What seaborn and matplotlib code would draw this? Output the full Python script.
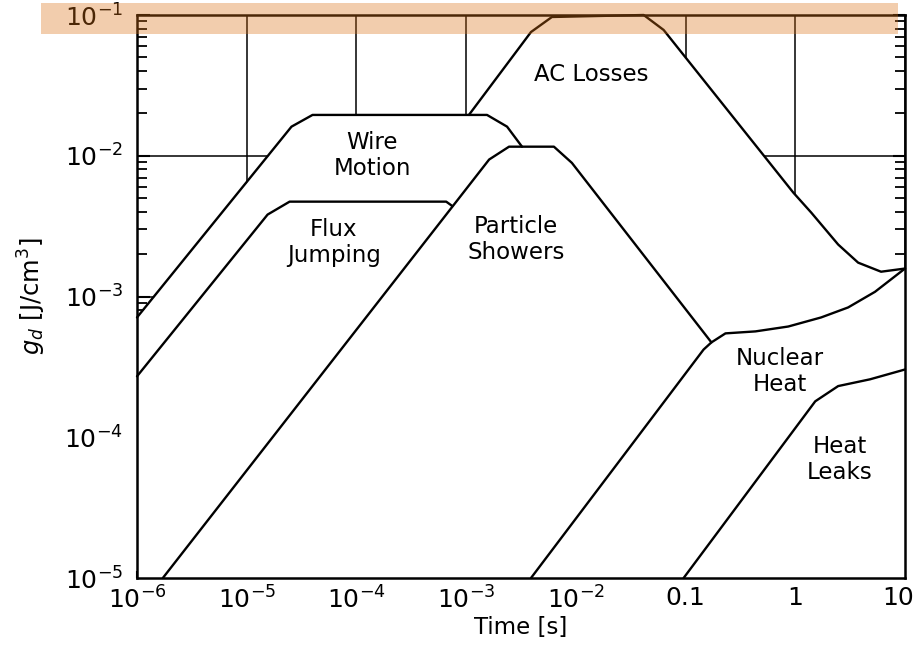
"""Energy deposition spectrum: g_d vs time for the disturbance sources."""
import pandas as pd
import matplotlib.pyplot as plt
import seaborn as sns
from matplotlib.patches import Rectangle
from matplotlib.ticker import LogLocator, NullLocator, NullFormatter
from matplotlib.transforms import ScaledTranslation

# values (time in s, g_d in J/cm^3)
wire_t = [1e-6, 2.56e-5, 3.98e-5, 1.55e-3, 2.36e-3, 3.23e-3]
wire_g = [7.1e-4, 1.61e-2, 1.95e-2, 1.95e-2, 1.61e-2, 1.16e-2]

flux_t = [1e-6, 1.55e-5, 2.46e-5, 6.58e-4, 7.46e-4]
flux_g = [2.71e-4, 3.82e-3, 4.72e-3, 4.72e-3, 4.4e-3]

shower_t = [1.72e-6, 1.62e-3, 2.46e-3, 6.31e-3, 9.2e-3, 0.172]
shower_g = [1e-5, 9.4e-3, 1.16e-2, 1.16e-2, 8.9e-3, 4.72e-4]

ac_t = [1.06e-3, 3.9e-3, 6.05e-3, 4.15e-2, 6.31e-2, 0.96, 1.40, 2.46, 3.74, 6.05, 10]
ac_g = [1.95e-2, 7.57e-2, 9.68e-2, 0.1, 7.83e-2, 5.47e-3, 3.94e-3, 2.34e-3,
        1.74e-3, 1.50e-3, 1.58e-3]

nuclear_t = [3.9e-3, 0.146, 0.172, 0.231, 0.433, 0.863, 1.72, 3.03, 5.33, 10]
nuclear_g = [1e-5, 4.2e-4, 4.72e-4, 5.47e-4, 5.65e-4, 6.12e-4, 7.1e-4, 8.36e-4,
             1.08e-3, 1.58e-3]

leak_t = [0.096, 1.52, 2.46, 4.8, 10]
leak_g = [1e-5, 1.8e-4, 2.31e-4, 2.58e-4, 3.03e-4]

labels = ["AC Losses", "Wire\nMotion", "Flux\nJumping", "Particle\nShowers",
          "Nuclear\nHeat", "Heat\nLeaks"]
label_t = [1.37e-2, 1.4e-4, 6.2e-5, 2.85e-3, 0.73, 2.56]
label_g = [3.75e-2, 1e-2, 2.42e-3, 2.54e-3, 2.94e-4, 6.98e-5]

x_ticks = [1e-6, 1e-5, 1e-4, 1e-3, 1e-2, 0.1, 1, 10]
x_tick_labels = [r"$10^{-6}$", r"$10^{-5}$", r"$10^{-4}$", r"$10^{-3}$",
                 r"$10^{-2}$", "0.1", "1", "10"]
y_ticks = [1e-5, 1e-4, 1e-3, 1e-2, 1e-1]
y_tick_labels = [r"$10^{-5}$", r"$10^{-4}$", r"$10^{-3}$", r"$10^{-2}$", r"$10^{-1}$"]

curves = {
    "AC Losses": (ac_t, ac_g),
    "Wire Motion": (wire_t, wire_g),
    "Flux Jumping": (flux_t, flux_g),
    "Particle Showers": (shower_t, shower_g),
    "Nuclear Heat": (nuclear_t, nuclear_g),
    "Heat Leaks": (leak_t, leak_g),
}
df = pd.concat(
    [pd.DataFrame({"time": t, "gd": g, "source": name}) for name, (t, g) in curves.items()],
    ignore_index=True,
)

sns.set_style("ticks")
plt.rcParams["font.family"] = ["DejaVu Sans"]
plt.rcParams["mathtext.fontset"] = "dejavusans"
plt.rcParams["text.color"] = "black"
plt.rcParams["axes.labelcolor"] = "black"
plt.rcParams["xtick.color"] = "black"
plt.rcParams["ytick.color"] = "black"

fig = plt.figure(figsize=(9.15, 6.58), dpi=100)
ax = fig.add_axes([137 / 915, 1 - 578 / 658, 768 / 915, 563 / 658])
ax.set_xscale("log")
ax.set_yscale("log")

# grid only shows in the empty region above the curves
ax.set_axisbelow(True)
ax.grid(True, which="major", color="black", lw=1.1)
for name, (t, g) in curves.items():
    ax.fill_between(t, 1e-5, g, color="white", lw=0, zorder=1)

sns.lineplot(data=df, x="time", y="gd", units="source", estimator=None,
             color="black", lw=1.7, ax=ax, zorder=2, clip_on=False)

for txt, t, g in zip(labels, label_t, label_g):
    ax.text(t, g, txt, ha="center", va="center", fontsize=16.5,
            linespacing=1.15, color="black", zorder=3)

ax.set_xlim(1e-6, 10)
ax.set_ylim(1e-5, 1e-1)
ax.set_xticks(x_ticks)
ax.set_xticklabels(x_tick_labels)
ax.xaxis.set_minor_locator(NullLocator())
ax.set_yticks(y_ticks)
ax.set_yticklabels(y_tick_labels)
ax.yaxis.set_minor_locator(LogLocator(base=10, subs=range(2, 10), numticks=20))
ax.yaxis.set_minor_formatter(NullFormatter())

ax.tick_params(axis="x", which="major", direction="in", length=5, width=1.5,
               bottom=True, top=False, labelsize=18, pad=6, colors="black")
ax.tick_params(axis="y", which="major", direction="in", length=9, width=1.5,
               left=True, right=True, labelsize=18, pad=10, colors="black")
ax.tick_params(axis="y", which="minor", direction="in", length=7, width=1.3,
               left=True, right=True, colors="black")

# keep the last x label inside the figure
last = ax.get_xticklabels()[-1]
last.set_transform(last.get_transform() + ScaledTranslation(-0.07, 0, fig.dpi_scale_trans))

for sp in ax.spines.values():
    sp.set_linewidth(1.8)
    sp.set_color("black")

ax.set_xlabel("Time [s]", fontsize=16.5, labelpad=2)
ax.set_ylabel(r"$g_d$ [J/cm$^3$]", fontsize=17.5, labelpad=12)
if ax.get_legend() is not None:
    ax.get_legend().remove()

# orange highlight band across the top
fig.add_artist(Rectangle((41 / 915, 1 - 34 / 658), 857 / 915, 31 / 658,
                         transform=fig.transFigure, color="#DA7014",
                         alpha=0.35, lw=0, zorder=10))

fig.savefig("out.png", dpi=100)
